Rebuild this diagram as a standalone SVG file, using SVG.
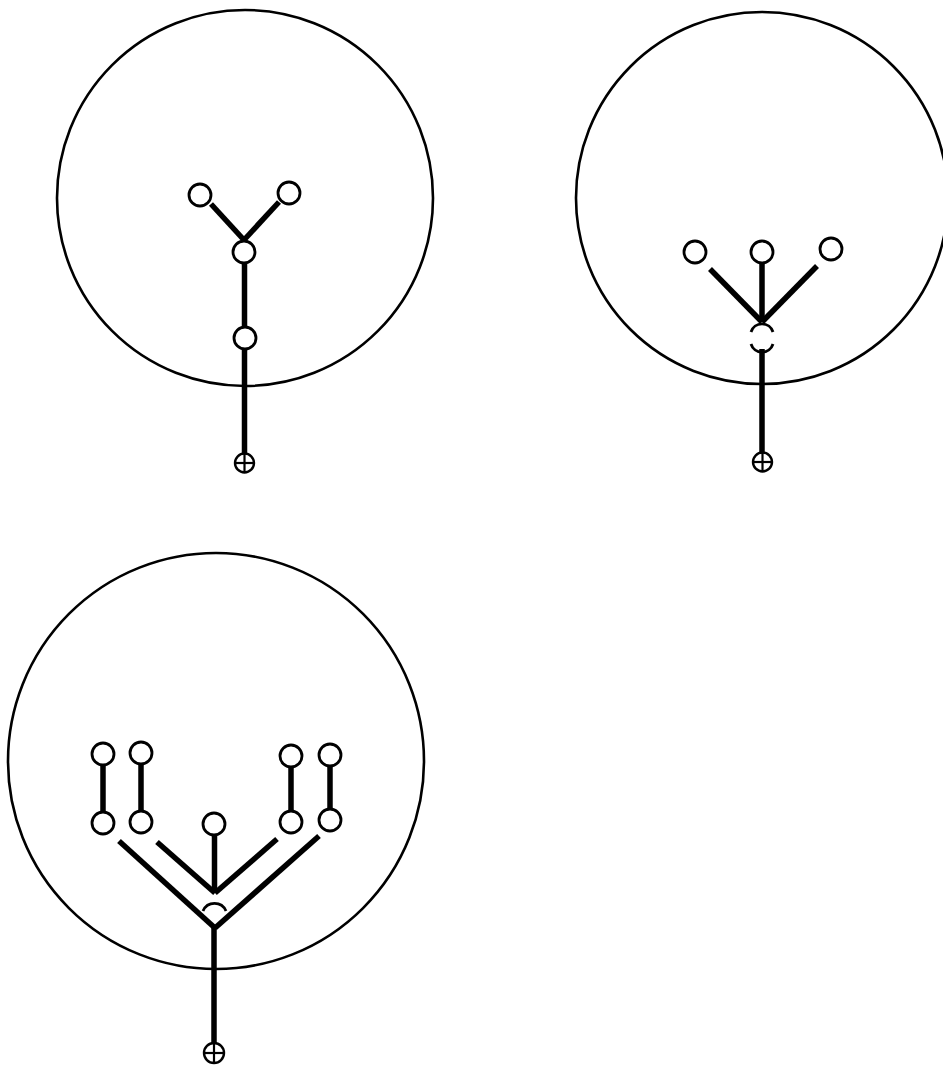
<svg xmlns="http://www.w3.org/2000/svg" width="943" height="1072" viewBox="0 0 943 1072">
<style>
.big{fill:none;stroke:#000;stroke-width:2.6}
.node{fill:#fff;stroke:#000;stroke-width:2.8}
.edge{stroke:#000;stroke-width:5.5;fill:none;stroke-linecap:butt}
.arc{fill:none;stroke:#000;stroke-width:2.8}
.root{fill:#fff;stroke:#000;stroke-width:2.4}
.cross{stroke:#000;stroke-width:2.2}
</style>
<rect width="943" height="1072" fill="#fff"/>
<g id="tree1">
  <circle id="t1-boundary" class="big" cx="245" cy="198" r="188"/>
  <g id="t1-connectors">
    <line class="edge" x1="211" y1="204" x2="244" y2="240"/>
    <line class="edge" x1="279" y1="202" x2="244" y2="240"/>
    <line class="edge" x1="244.5" y1="264" x2="244.5" y2="326"/>
    <line class="edge" x1="244.5" y1="350" x2="244.5" y2="454"/>
  </g>
  <g id="t1-n1"><circle class="node" cx="200" cy="195" r="11"/></g>
  <g id="t1-n2"><circle class="node" cx="289" cy="193" r="11"/></g>
  <g id="t1-n3"><circle class="node" cx="244" cy="252" r="11"/></g>
  <g id="t1-n4"><circle class="node" cx="245" cy="338" r="11"/></g>
  <g id="t1-root">
    <circle class="root" cx="244.5" cy="463" r="9.5"/>
    <line class="cross" x1="235" y1="463" x2="254" y2="463"/>
    <line class="cross" x1="244.5" y1="453.5" x2="244.5" y2="472.5"/>
  </g>
</g>
<g id="tree2">
  <circle id="t2-boundary" class="big" cx="762" cy="198" r="186"/>
  <g id="t2-connectors">
    <line class="edge" x1="710" y1="269" x2="762" y2="322"/>
    <line class="edge" x1="762" y1="264" x2="762" y2="322"/>
    <line class="edge" x1="817" y1="266" x2="762" y2="322"/>
    <line class="edge" x1="762" y1="349" x2="762" y2="453"/>
  </g>
  <g id="t2-n1"><circle class="node" cx="695" cy="252" r="11"/></g>
  <g id="t2-n2"><circle class="node" cx="762" cy="252" r="11"/></g>
  <g id="t2-n3"><circle class="node" cx="831" cy="249" r="11"/></g>
  <g id="t2-junction">
    <path class="arc" d="M751 332 A11.5 11.5 0 0 1 773 332"/>
    <path class="arc" d="M751 344 A11.5 11.5 0 0 0 773 344"/>
  </g>
  <g id="t2-root">
    <circle class="root" cx="762.5" cy="462" r="9.5"/>
    <line class="cross" x1="753" y1="462" x2="772" y2="462"/>
    <line class="cross" x1="762.5" y1="452.5" x2="762.5" y2="471.5"/>
  </g>
</g>
<g id="tree3">
  <circle id="t3-boundary" class="big" cx="216" cy="761" r="208"/>
  <g id="t3-connectors">
    <line class="edge" x1="103" y1="765" x2="103" y2="812"/>
    <line class="edge" x1="141" y1="764" x2="141" y2="811"/>
    <line class="edge" x1="291" y1="767" x2="291" y2="811"/>
    <line class="edge" x1="330" y1="766" x2="330" y2="809"/>
    <line class="edge" x1="119" y1="841" x2="215" y2="928"/>
    <line class="edge" x1="157" y1="842" x2="215" y2="893"/>
    <line class="edge" x1="214.5" y1="836" x2="214.5" y2="893"/>
    <line class="edge" x1="277" y1="839" x2="215" y2="893"/>
    <line class="edge" x1="319" y1="836" x2="215" y2="928"/>
    <line class="edge" x1="214" y1="928" x2="214" y2="1043"/>
  </g>
  <g id="t3-n1"><circle class="node" cx="103" cy="754" r="11"/></g>
  <g id="t3-n2"><circle class="node" cx="141" cy="753" r="11"/></g>
  <g id="t3-n3"><circle class="node" cx="291" cy="756" r="11"/></g>
  <g id="t3-n4"><circle class="node" cx="330" cy="755" r="11"/></g>
  <g id="t3-n5"><circle class="node" cx="103" cy="823" r="11"/></g>
  <g id="t3-n6"><circle class="node" cx="141" cy="822" r="11"/></g>
  <g id="t3-n7"><circle class="node" cx="214" cy="824" r="11"/></g>
  <g id="t3-n8"><circle class="node" cx="291" cy="822" r="11"/></g>
  <g id="t3-n9"><circle class="node" cx="330" cy="820" r="11"/></g>
  <g id="t3-junction">
    <path class="arc" d="M203 911 A12.5 12.5 0 0 1 226 911"/>
  </g>
  <g id="t3-root">
    <circle class="root" cx="214" cy="1053" r="10"/>
    <line class="cross" x1="204" y1="1053" x2="224" y2="1053"/>
    <line class="cross" x1="214" y1="1043" x2="214" y2="1063"/>
  </g>
</g>
</svg>
